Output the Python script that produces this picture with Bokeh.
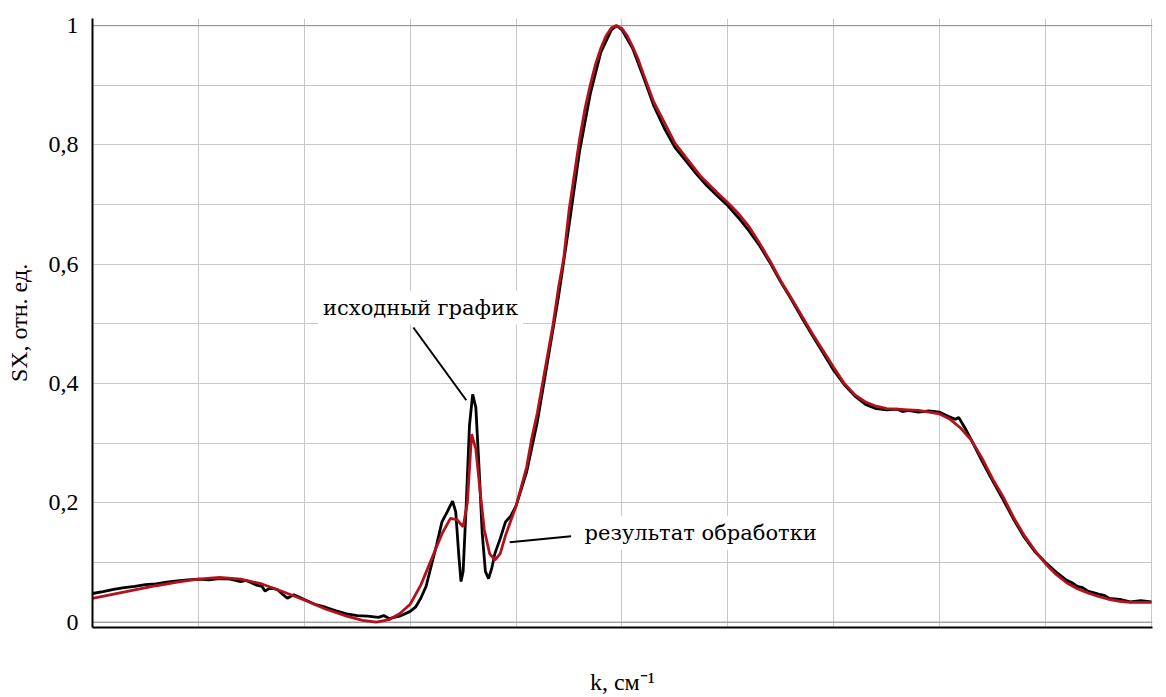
from bokeh.plotting import figure
from bokeh.models import Range1d, FixedTicker, Label, Span
from bokeh.embed import file_html
from bokeh.resources import INLINE

# ---- data ----
k_orig = [2000, 2010, 2020, 2030, 2040, 2050, 2060, 2070, 2080, 2090, 2100, 2110, 2120, 2130,
          2140, 2145, 2150, 2155, 2160, 2163, 2168, 2175, 2180, 2184, 2190, 2195, 2200, 2210,
          2220, 2230, 2240, 2250, 2260, 2270, 2275, 2280, 2290, 2300, 2305, 2310, 2315, 2320,
          2325, 2330, 2335, 2340, 2343, 2346, 2348, 2350, 2353, 2356, 2359, 2362, 2365, 2368,
          2371, 2374, 2377, 2380, 2385, 2390, 2395, 2400, 2410, 2420, 2430, 2440, 2450, 2460,
          2470, 2480, 2490, 2495, 2500, 2510, 2520, 2530, 2540, 2550, 2560, 2570, 2580, 2590,
          2600, 2610, 2620, 2630, 2640, 2650, 2660, 2670, 2680, 2690, 2700, 2710, 2720, 2730,
          2740, 2750, 2760, 2765, 2770, 2780, 2790, 2800, 2808, 2815, 2818, 2825, 2830, 2840,
          2850, 2860, 2870, 2880, 2890, 2900, 2910, 2920, 2925, 2930, 2935, 2940, 2950, 2955,
          2960, 2970, 2975, 2980, 2990, 3000]
sx_orig = [0.048, 0.051, 0.055, 0.058, 0.060, 0.063, 0.064, 0.067, 0.069, 0.071, 0.072, 0.071,
           0.073, 0.072, 0.068, 0.070, 0.066, 0.062, 0.060, 0.052, 0.058, 0.054, 0.046, 0.040,
           0.046, 0.042, 0.038, 0.030, 0.025, 0.019, 0.014, 0.011, 0.010, 0.008, 0.011, 0.006,
           0.010, 0.018, 0.025, 0.040, 0.060, 0.095, 0.130, 0.168, 0.185, 0.203, 0.185, 0.110,
           0.068, 0.085, 0.200, 0.330, 0.382, 0.360, 0.260, 0.150, 0.085, 0.073, 0.090, 0.115,
           0.140, 0.168, 0.178, 0.195, 0.252, 0.335, 0.440, 0.545, 0.665, 0.790, 0.885, 0.955,
           0.993, 1.000, 0.993, 0.962, 0.915, 0.866, 0.828, 0.796, 0.774, 0.752, 0.732, 0.715,
           0.698, 0.678, 0.656, 0.631, 0.602, 0.570, 0.541, 0.510, 0.480, 0.451, 0.422, 0.398,
           0.379, 0.365, 0.358, 0.356, 0.357, 0.353, 0.355, 0.352, 0.354, 0.352, 0.345, 0.340,
           0.343, 0.322, 0.305, 0.270, 0.237, 0.205, 0.172, 0.142, 0.118, 0.100, 0.084, 0.070,
           0.066, 0.060, 0.058, 0.052, 0.047, 0.045, 0.040, 0.038, 0.036, 0.034, 0.036, 0.034]

k_proc = [2000, 2020, 2040, 2060, 2080, 2100, 2120, 2140, 2160, 2180, 2200, 2220, 2240, 2255,
          2268, 2280, 2290, 2300, 2310, 2320, 2330, 2338, 2344, 2350, 2354, 2358, 2362, 2366,
          2370, 2375, 2380, 2385, 2390, 2400, 2410, 2415, 2420, 2425, 2430, 2435, 2440, 2445,
          2450, 2455, 2460, 2465, 2470, 2475, 2480, 2485, 2490, 2494, 2500, 2505, 2510, 2515,
          2520, 2530, 2540, 2550, 2560, 2574, 2590, 2600, 2610, 2620, 2630, 2640, 2650, 2660,
          2670, 2680, 2690, 2700, 2710, 2720, 2730, 2740, 2750, 2760, 2770, 2780, 2790, 2800,
          2810, 2820, 2830, 2840, 2850, 2860, 2870, 2880, 2890, 2900, 2910, 2920, 2930, 2940,
          2950, 2960, 2970, 2980, 2990, 3000]
sx_proc = [0.040, 0.047, 0.054, 0.061, 0.067, 0.072, 0.075, 0.072, 0.064, 0.051, 0.037, 0.022,
           0.010, 0.003, 0.000, 0.004, 0.014, 0.030, 0.062, 0.105, 0.148, 0.174, 0.172, 0.160,
           0.200, 0.315, 0.290, 0.220, 0.155, 0.115, 0.104, 0.115, 0.145, 0.195, 0.260, 0.310,
           0.350, 0.400, 0.450, 0.500, 0.560, 0.610, 0.690, 0.750, 0.810, 0.860, 0.900, 0.935,
           0.962, 0.983, 0.996, 1.000, 0.995, 0.983, 0.965, 0.945, 0.920, 0.872, 0.838, 0.803,
           0.780, 0.748, 0.720, 0.703, 0.685, 0.663, 0.635, 0.605, 0.572, 0.543, 0.513, 0.483,
           0.455, 0.427, 0.400, 0.381, 0.369, 0.362, 0.358, 0.357, 0.356, 0.355, 0.352, 0.349,
           0.340, 0.325, 0.305, 0.275, 0.240, 0.210, 0.175, 0.145, 0.120, 0.098, 0.080, 0.066,
           0.056, 0.049, 0.043, 0.038, 0.035, 0.033, 0.033, 0.033]

x_ticks = [2000, 2200, 2400, 2600, 2800, 3000]
x_tick_labels = ["2000", "2200", "2400", "2600", "2800", "3000"]
x_minor = [2100, 2300, 2500, 2700, 2900]
y_ticks = [0.0, 0.2, 0.4, 0.6, 0.8, 1.0]
y_tick_labels = ["0", "0,2", "0,4", "0,6", "0,8", "1"]
y_minor = [0.1, 0.3, 0.5, 0.7, 0.9]

FONT = "Liberation Serif"
FONT2 = "DejaVu Serif"
INK = "#000000"
GRID = "#c8c8c8"
RED = "#b3121c"

p = figure(width=1166, height=697, output_backend="svg", toolbar_location=None,
           x_range=Range1d(2000, 3001), y_range=Range1d(-0.009, 1.012),
           min_border_left=92, min_border_right=14, min_border_top=18, min_border_bottom=64)
p.outline_line_color = None

p.xaxis.ticker = FixedTicker(ticks=x_ticks, minor_ticks=x_minor)
p.yaxis.ticker = FixedTicker(ticks=y_ticks, minor_ticks=y_minor)
p.yaxis.major_label_overrides = dict(zip(y_ticks, y_tick_labels))

for ax in (p.xaxis[0], p.yaxis[0]):
    ax.axis_line_color = INK
    ax.axis_line_width = 2
    ax.major_tick_line_color = None
    ax.minor_tick_line_color = None
    ax.major_label_text_font = FONT
    ax.major_label_text_font_size = "24px"
    ax.major_label_text_color = INK
    ax.axis_label_text_font = FONT
    ax.axis_label_text_font_size = "24px"
    ax.axis_label_text_font_style = "normal"
    ax.axis_label_text_color = INK

# x tick labels are drawn as serif labels below the axis (see loop further down)
p.xaxis.major_label_text_font_size = "0px"
p.xaxis.major_label_standoff = 0
p.xaxis.axis_label_standoff = 35

p.xaxis.axis_label = "k, см⁻¹"
p.yaxis.axis_label = "SX, отн. ед."
p.yaxis.major_label_standoff = 8
p.yaxis.axis_label_standoff = 14

for g in (p.xgrid[0], p.ygrid[0]):
    g.grid_line_color = GRID
    g.grid_line_width = 1
    g.minor_grid_line_color = GRID
    g.minor_grid_line_width = 1

for yv in (0.0, 1.0):
    p.add_layout(Span(location=yv, dimension="width", line_color="#8c8c8c",
                      line_width=1, level="underlay"))

p.line(k_orig, sx_orig, line_color=INK, line_width=2.8)
p.line(k_proc, sx_proc, line_color=RED, line_width=2.8)

# x tick labels
for t, s in zip(x_ticks, x_tick_labels):
    p.add_layout(Label(x=t, y=-0.046, text=s, text_font=FONT2, text_font_size="20px",
                       text_align="center", text_baseline="middle", text_color=INK))

# leader lines of the annotations
p.segment(x0=[2303, 2394], y0=[0.494, 0.134], x1=[2353, 2452], y1=[0.372, 0.144],
          line_color=INK, line_width=2)

p.add_layout(Label(x=2213, y=0.527, text="исходный график", text_font=FONT2,
                   text_font_size="21px", text_baseline="middle", text_color=INK,
                   background_fill_color="white", padding=5))
p.add_layout(Label(x=2460, y=0.150, text="результат обработки", text_font=FONT2,
                   text_font_size="21px", text_baseline="middle", text_color=INK,
                   background_fill_color="white", padding=5))

open("out.html", "w").write(file_html(p, INLINE))
